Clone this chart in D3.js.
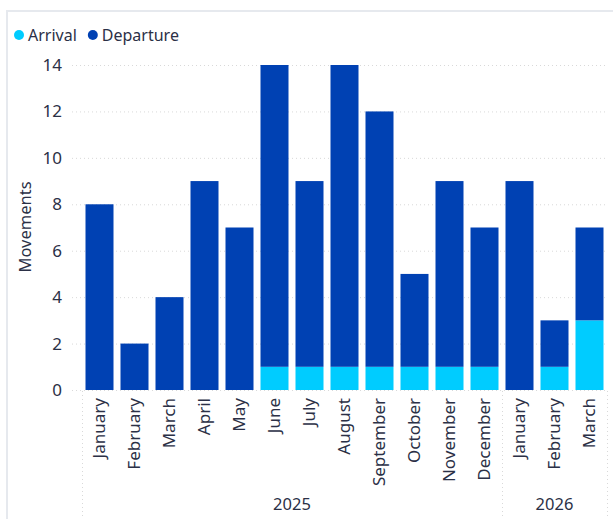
<!DOCTYPE html>
<html><head><meta charset="utf-8">
<script src="https://cdn.jsdelivr.net/npm/d3@7"></script>
<style>
html,body{margin:0;padding:0;background:#fff;}
svg{display:block;}
text{font-family:"Segoe UI","Noto Sans","Open Sans",sans-serif;}
</style></head>
<body>
<svg id="chart" width="613" height="519"></svg>
<script>
const months = ["January","February","March","April","May","June","July","August","September","October","November","December","January","February","March"];
const years = ["2025","2025","2025","2025","2025","2025","2025","2025","2025","2025","2025","2025","2026","2026","2026"];
const arrival =   [0,0,0,0,0,1,1,1,1,1,1,1,0,1,3];
const departure = [8,2,4,9,7,13,8,13,11,4,8,6,9,2,4];
const yTicks = [0,2,4,6,8,10,12,14];
const seriesNames = ["Arrival","Departure"];
const colors = ["#00CCFF","#0041B3"];

const svg = d3.select("#chart");
const textColor = "#2b3046";

// frame
svg.append("line").attr("x1",7).attr("x2",613).attr("y1",11).attr("y2",11).attr("stroke","#e6e9ee").attr("stroke-width",2);
svg.append("line").attr("x1",7).attr("x2",7).attr("y1",10).attr("y2",519).attr("stroke","#e6e9ee").attr("stroke-width",2);

const data = months.map((m,i)=>({key:i, month:m, year:years[i], Arrival:arrival[i], Departure:departure[i]}));

const x = d3.scaleBand().domain(data.map(d=>d.key)).range([82,607]).paddingInner(0.2).paddingOuter(0.1);
const y = d3.scaleLinear().domain([0,14]).range([390,65]);

// gridlines
svg.append("g").selectAll("line").data(yTicks).join("line")
  .attr("x1",72).attr("x2",607)
  .attr("y1",d=>y(d)+0.5).attr("y2",d=>y(d)+0.5)
  .attr("stroke","#d9d9d9").attr("stroke-width",1).attr("stroke-dasharray","1,3");

// y axis
const yAxis = svg.append("g").attr("transform","translate(62,0)")
  .call(d3.axisLeft(y).tickValues(yTicks).tickSize(0).tickPadding(0));
yAxis.select(".domain").remove();
yAxis.selectAll("text").attr("fill",textColor).style("font-size","17px").attr("text-anchor","end");

svg.append("text").attr("transform","translate(31,227) rotate(-90)")
  .attr("text-anchor","middle").attr("fill",textColor).style("font-size","16.5px").text("Movements");

// bars
const stack = d3.stack().keys(seriesNames)(data);
svg.append("g").selectAll("g").data(stack).join("g")
  .attr("fill",(d,i)=>colors[i])
  .selectAll("rect").data(d=>d.filter(p=>p[1]-p[0]>0)).join("rect")
  .attr("x",d=>x(d.data.key)).attr("width",x.bandwidth())
  .attr("y",d=>y(d[1])).attr("height",d=>y(d[0])-y(d[1]));

// x axis month labels
const xAxis = svg.append("g").attr("transform","translate(0,398)")
  .call(d3.axisBottom(x).tickSize(0).tickPadding(0).tickFormat(i=>months[i]));
xAxis.select(".domain").remove();
xAxis.selectAll("text").attr("fill",textColor).style("font-size","17px")
  .attr("text-anchor","end").attr("dy","0.35em").attr("dx",0).attr("y",0)
  .attr("transform","rotate(-90)");

// year groups
const groups = d3.groups(data, d=>d.year);
const sepX = [82];
groups.forEach(([yr, arr])=>{
  const x0 = x(arr[0].key) - x.step()*x.paddingInner()/2;
  const x1 = x(arr[arr.length-1].key) + x.bandwidth() + x.step()*x.paddingInner()/2;
  sepX.push(x1);
  svg.append("text").attr("x",(x0+x1)/2).attr("y",510).attr("text-anchor","middle")
    .attr("fill",textColor).style("font-size","16.5px").text(yr);
});
svg.append("g").selectAll("line").data(sepX).join("line")
  .attr("x1",d=>Math.round(d)+0.5).attr("x2",d=>Math.round(d)+0.5)
  .attr("y1",391).attr("y2",519)
  .attr("stroke","#d9d9d9").attr("stroke-dasharray","1,3");

// legend
const legend = svg.append("g").attr("transform","translate(0,35)");
let lx = 19;
seriesNames.forEach((n,i)=>{
  legend.append("circle").attr("cx",lx).attr("cy",0).attr("r",5).attr("fill",colors[i]);
  const t = legend.append("text").attr("x",lx+9).attr("y",0).attr("dy","0.35em")
    .attr("fill",textColor).style("font-size","16px").text(n);
  lx = lx + 9 + t.node().getComputedTextLength() + 16;
});
</script>
</body></html>
